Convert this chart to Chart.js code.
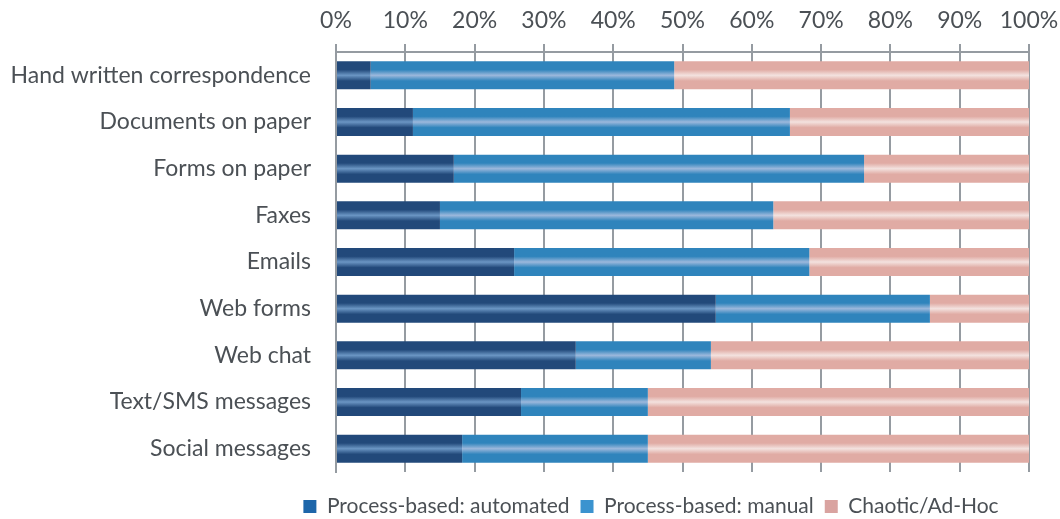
<!DOCTYPE html>
<html lang="en">
<head>
  <meta charset="UTF-8" />
  <title>Channels by process type</title>
  <script src="https://cdn.jsdelivr.net/npm/chart.js"></script>
  <style>
    html, body { margin: 0; padding: 0; background: #fff; }
    #chart { display: block; }
  </style>
</head>
<body>
  <canvas id="chart" width="1060" height="519"></canvas>

  <script>
    const categories = [
      'Hand written correspondence',
      'Documents on paper',
      'Forms on paper',
      'Faxes',
      'Emails',
      'Web forms',
      'Web chat',
      'Text/SMS messages',
      'Social messages'
    ];
    const automated = [5.0, 11.1, 17.0, 15.0, 25.7, 54.8, 34.6, 26.7, 18.2];
    const manual    = [43.8, 54.4, 59.2, 48.1, 42.6, 30.9, 19.5, 18.3, 26.8];
    const chaotic   = [51.2, 34.5, 23.8, 36.9, 31.7, 14.3, 45.9, 55.0, 55.0];
    const tickValues = [0, 10, 20, 30, 40, 50, 60, 70, 80, 90, 100];

    const textColor = '#4b5055';
    const fontFamily = 'Lato, "Open Sans", sans-serif';

    // edge / centre colours for the striped look of each series
    const stripes = [
      ['#22497a', '#6b96c4'],
      ['#2f84bc', '#9cb8dc'],
      ['#e0aba4', '#f3e2df']
    ];

    // give every bar a vertical gradient with a light stripe in the middle
    const barShine = {
      id: 'barShine',
      beforeDatasetsDraw(chart) {
        const ctx = chart.ctx;
        chart.data.datasets.forEach((ds, i) => {
          const [edge, mid] = stripes[i];
          chart.getDatasetMeta(i).data.forEach(bar => {
            const top = bar.y - bar.height / 2;
            const g = ctx.createLinearGradient(0, top, 0, top + bar.height);
            g.addColorStop(0, edge);
            g.addColorStop(0.3, edge);
            g.addColorStop(0.5, mid);
            g.addColorStop(0.7, edge);
            g.addColorStop(1, edge);
            // options are shared between bars, so give each its own copy
            const opts = Object.create(bar.options);
            opts.backgroundColor = g;
            bar.options = opts;
          });
        });
      },
      afterLayout(chart) {
        // centre the legend a bit left of the plot and push it down, like the original
        chart.legend.left = 253;
        chart.legend.right = 1049;
        chart.legend.top = 485;
      }
    };

    new Chart(document.getElementById('chart'), {
      type: 'bar',
      data: {
        labels: categories,
        datasets: [
          { label: 'Process-based: automated', data: automated, backgroundColor: '#1d66aa' },
          { label: 'Process-based: manual', data: manual, backgroundColor: '#3b93cf' },
          { label: 'Chaotic/Ad-Hoc', data: chaotic, backgroundColor: '#d9a3a0' }
        ]
      },
      options: {
        indexAxis: 'y',
        responsive: false,
        animation: false,
        layout: { padding: { top: 0, right: 31, left: 0, bottom: 5 } },
        datasets: {
          bar: { categoryPercentage: 1, barPercentage: 0.6, borderWidth: 0 }
        },
        scales: {
          x: {
            position: 'top',
            stacked: true,
            min: 0,
            max: 100,
            afterBuildTicks(axis) {
              axis.ticks = tickValues.map(v => ({ value: v }));
            },
            afterFit(axis) {
              axis.height = 52;
              axis.paddingLeft = 0;
              axis.paddingRight = 0;
            },
            ticks: {
              padding: 10,
              color: textColor,
              font: { family: fontFamily, size: 23 },
              callback: v => v + '%'
            },
            grid: {
              color: '#959ba1',
              lineWidth: 2,
              tickLength: 8,
              drawOnChartArea: true
            },
            border: { color: '#959ba1', width: 2 }
          },
          y: {
            stacked: true,
            afterFit(axis) { axis.width = 336; },
            ticks: {
              padding: 17,
              color: textColor,
              font: { family: fontFamily, size: 23 }
            },
            grid: { display: false },
            border: { color: '#959ba1', width: 2 }
          }
        },
        plugins: {
          legend: {
            position: 'bottom',
            labels: {
              color: textColor,
              font: { family: fontFamily, size: 21 },
              boxWidth: 13,
              boxHeight: 13,
              padding: 11
            }
          },
          tooltip: { enabled: false }
        }
      },
      plugins: [barShine]
    });
  </script>
</body>
</html>
